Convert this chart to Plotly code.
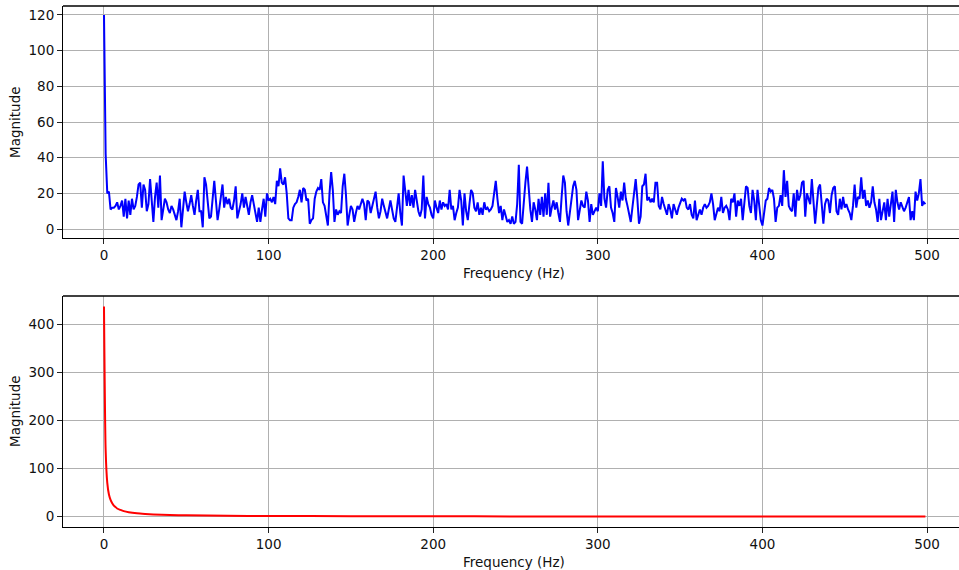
import plotly.graph_objects as go
from plotly.subplots import make_subplots

# ---- data ----
freq_top = list(range(500))  # frequency bins, Hz
mag_top = [
    120, 42, 20, 21, 11, 12, 12, 13, 15, 11,
    13, 16, 7, 17, 6, 16, 8, 17, 11, 13,
    18, 25, 26, 12, 25, 22, 10, 14, 28, 15,
    4, 18, 26, 12, 30, 5, 12, 17, 15, 11,
    9, 13, 11, 8, 5, 10, 17, 1, 12, 21,
    15, 10, 14, 19, 13, 8, 16, 22, 10, 10,
    1, 29, 25, 14, 6, 7, 18, 27, 16, 5,
    11, 18, 25, 12, 18, 14, 17, 12, 11, 16,
    24, 6, 10, 14, 20, 12, 18, 12, 8, 15,
    19, 14, 9, 4, 12, 4, 11, 17, 7, 20,
    16, 17, 15, 18, 14, 27, 24, 34, 26, 25,
    29, 20, 6, 5, 5, 12, 14, 15, 18, 22,
    15, 23, 22, 16, 17, 3, 5, 6, 17, 21,
    23, 22, 28, 15, 13, 8, 2, 20, 32, 22,
    4, 11, 8, 10, 9, 24, 31, 19, 2, 8,
    13, 11, 4, 9, 13, 11, 14, 17, 14, 5,
    16, 15, 9, 13, 17, 21, 12, 6, 10, 17,
    13, 9, 6, 11, 16, 11, 6, 4, 12, 20,
    9, 2, 30, 20, 13, 22, 13, 19, 12, 22,
    16, 10, 7, 11, 30, 6, 18, 14, 12, 8,
    6, 16, 12, 9, 16, 11, 15, 13, 14, 11,
    22, 11, 13, 5, 9, 12, 22, 16, 2, 20,
    10, 5, 14, 22, 20, 12, 10, 15, 8, 12,
    8, 15, 11, 12, 10, 11, 13, 20, 27, 17,
    9, 13, 5, 11, 7, 4, 5, 3, 7, 3,
    4, 14, 36, 4, 3, 17, 26, 35, 22, 11,
    4, 15, 11, 5, 17, 8, 18, 7, 20, 8,
    26, 7, 12, 16, 11, 15, 9, 4, 18, 30,
    26, 10, 2, 9, 19, 24, 27, 22, 5, 11,
    16, 13, 12, 21, 16, 4, 14, 8, 10, 12,
    10, 20, 13, 38, 17, 12, 22, 24, 12, 9,
    4, 23, 18, 12, 21, 16, 26, 17, 13, 9,
    4, 12, 19, 28, 17, 3, 7, 24, 25, 31,
    16, 18, 15, 17, 15, 26, 26, 13, 11, 18,
    14, 11, 8, 14, 11, 6, 14, 11, 8, 12,
    14, 17, 16, 17, 12, 11, 14, 8, 6, 16,
    5, 8, 11, 8, 12, 14, 12, 13, 15, 20,
    14, 5, 9, 12, 10, 18, 9, 12, 13, 11,
    5, 17, 15, 20, 7, 16, 13, 17, 5, 16,
    24, 23, 13, 9, 22, 16, 5, 22, 13, 5,
    2, 11, 16, 17, 23, 21, 22, 17, 4, 12,
    13, 19, 13, 33, 18, 27, 13, 11, 10, 20,
    7, 22, 16, 19, 26, 27, 7, 20, 17, 14,
    28, 16, 3, 13, 23, 25, 13, 3, 14, 17,
    16, 9, 19, 23, 24, 10, 8, 17, 11, 18,
    12, 14, 11, 9, 5, 13, 25, 12, 18, 17,
    29, 17, 22, 13, 16, 12, 15, 24, 15, 11,
    4, 17, 5, 10, 15, 5, 17, 7, 13, 21,
    4, 22, 15, 11, 15, 12, 10, 12, 15, 18,
    5, 10, 5, 21, 16, 20, 28, 13, 15, 14,
]

freq_bottom = [0, 1, 2, 3, 4, 5, 6, 7, 8, 10, 12, 15, 20, 25, 30, 40, 50,
               75, 100, 150, 200, 250, 300, 400, 499]
mag_bottom = [437, 139, 70, 46, 35, 28, 23, 20, 17, 14, 11.5, 9.3, 7, 5.6,
              4.6, 3.5, 2.8, 1.9, 1.4, 0.95, 0.7, 0.56, 0.47, 0.35, 0.28]

x_ticks = [0, 100, 200, 300, 400, 500]
y_ticks_top = [0, 20, 40, 60, 80, 100, 120]
y_ticks_bottom = [0, 100, 200, 300, 400]

x_title = "Frequency (Hz)"
y_title = "Magnitude"

# ---- figure ----
W, H = 959, 570
ml, mr, mt, mb = 63, 0, 6, 43
fig = make_subplots(rows=2, cols=1, shared_xaxes=False, vertical_spacing=0.1)

fig.add_trace(go.Scatter(x=freq_top, y=mag_top, mode="lines",
                         line=dict(color="#0000ff", width=2), showlegend=False),
              row=1, col=1)
fig.add_trace(go.Scatter(x=freq_bottom, y=mag_bottom, mode="lines",
                         line=dict(color="#ff0000", width=2, shape="spline", smoothing=0.6),
                         showlegend=False),
              row=2, col=1)

plot_h = H - mt - mb
top_dom = [(527 - 238) / plot_h, 1.0]
bot_dom = [0.0, (527 - 296) / plot_h]

font = dict(family="DejaVu Sans", size=13.5, color="#111111")
axis_common = dict(showgrid=True, gridcolor="#b0b0b0", gridwidth=1,
                   zeroline=False, showline=True, linecolor="black", linewidth=1,
                   ticks="outside", ticklen=5, tickwidth=1, tickcolor="#222222",
                   tickfont=font)

xr = [-24.9, 519.4]
fig.update_layout(
    width=W, height=H,
    margin=dict(l=ml, r=mr, t=mt, b=mb),
    paper_bgcolor="white", plot_bgcolor="white",
    font=font,
    xaxis=dict(range=xr, tickvals=x_ticks, **axis_common),
    xaxis2=dict(range=xr, tickvals=x_ticks, **axis_common),
    yaxis=dict(domain=top_dom, range=[-5.0, 125.0], tickvals=y_ticks_top, **axis_common),
    yaxis2=dict(domain=bot_dom, range=[-21.5, 458.6], tickvals=y_ticks_bottom, **axis_common),
)

# top spines (the right spine falls outside the clipped picture)
for xref, yref in (("x domain", "y domain"), ("x2 domain", "y2 domain")):
    fig.add_shape(type="line", xref=xref, yref=yref, x0=0, x1=1, y0=1, y1=1,
                  line=dict(color="black", width=1.3))

# axis titles as annotations
xc = (514 - ml) / (W - ml - mr)
fig.add_annotation(text=x_title, xref="paper", yref="paper", x=xc, y=1 - (273 - mt) / plot_h,
                   showarrow=False, font=font, xanchor="center", yanchor="middle")
fig.add_annotation(text=x_title, xref="paper", yref="paper", x=xc, y=1 - (562 - mt) / plot_h,
                   showarrow=False, font=font, xanchor="center", yanchor="middle")
fig.add_annotation(text=y_title, xref="paper", yref="paper", x=(15 - ml) / (W - ml - mr),
                   y=1 - (122 - mt) / plot_h, textangle=-90,
                   showarrow=False, font=font, xanchor="center", yanchor="middle")
fig.add_annotation(text=y_title, xref="paper", yref="paper", x=(15 - ml) / (W - ml - mr),
                   y=1 - (411 - mt) / plot_h, textangle=-90,
                   showarrow=False, font=font, xanchor="center", yanchor="middle")

fig.write_html("out.html",
               config={"displayModeBar": False},
               post_script="document.body.style.margin='0';document.body.style.overflow='hidden';")
